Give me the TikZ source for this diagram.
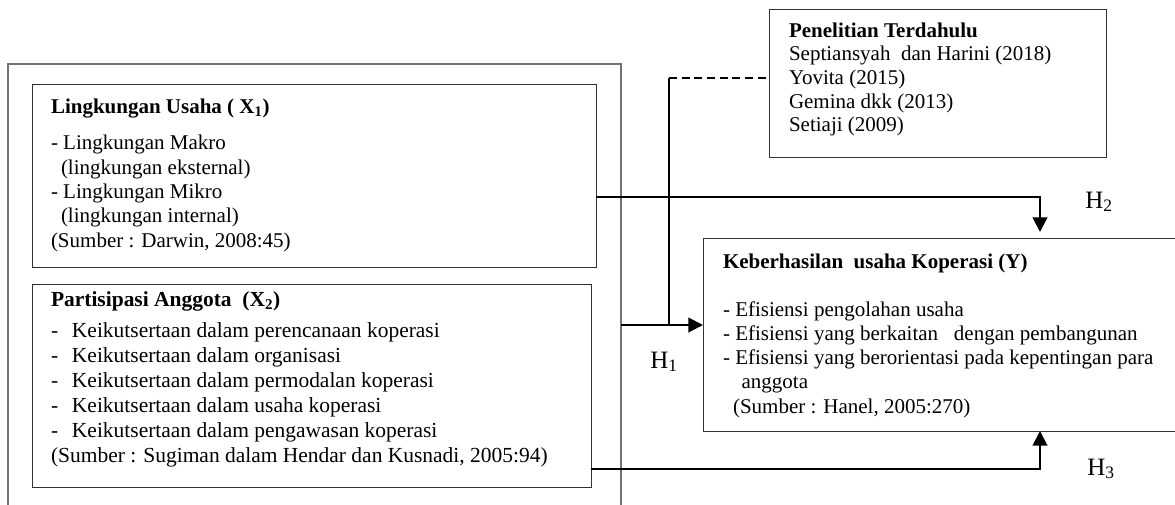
\documentclass[tikz,border=0pt]{standalone}
\usepackage{fontspec}
\setmainfont{Liberation Serif}
\usetikzlibrary{arrows.meta,fit}
\newcommand\tstrut{\rule{0pt}{13pt}}
\begin{document}
\begin{tikzpicture}[x=0.75pt,y=-0.75pt,
  thinbox/.style={draw=black!80, line width=0.75pt, inner sep=0pt, outer sep=0pt},
  outerline/.style={draw=black!55, line width=0.9pt},
  conn/.style={line width=1.5pt, black},
  tip/.style={-{Triangle[length=11pt,width=11pt]}},
  txt/.style={anchor=north west, inner sep=0pt, outer sep=0pt, align=left, yshift=13pt},
  body/.style={font=\fontsize{15.75pt}{18.2pt}\selectfont},
  hlab/.style={anchor=base west, inner sep=0pt, font=\fontsize{18.75pt}{22pt}\selectfont}]
\useasboundingbox (0,0) rectangle (1175,504);
\fill[white] (0,0) rectangle (1175,504);

% outer frame (open at the bottom)
\node[fit={(8,64) (621,530)}, inner sep=0pt, outer sep=0pt] (outer) {};
\draw[outerline] (outer.south west) |- (outer.north east) -- (outer.south east);

% boxes
\node[thinbox, fit={(32,84) (596,267)}] (b1) {};
\node[thinbox, fit={(32,284) (591,487)}] (b2) {};
\node[thinbox, fit={(769,9) (1106,157)}] (pen) {};
\node[thinbox, fit={(703,238) (1190,431)}] (Y) {};

% texts
\node[txt, body] (t1) at (51,113) {\tstrut\textbf{Lingkungan Usaha ( X\textsubscript{1})}\\[9.5pt]
- Lingkungan Makro\\
\hspace*{7.5pt}(lingkungan eksternal)\\
- Lingkungan Mikro\\
\hspace*{7.5pt}(lingkungan internal)\\
(Sumber : Darwin, 2008:45)};

\node[txt, font=\fontsize{16.1pt}{18.7pt}\selectfont] (t2) at (51,306) {\tstrut\textbf{Partisipasi Anggota\ \ (X\textsubscript{2})}\\[5pt]
\makebox[15.75pt][l]{-}Keikutsertaan dalam perencanaan koperasi\\
\makebox[15.75pt][l]{-}Keikutsertaan dalam organisasi\\
\makebox[15.75pt][l]{-}Keikutsertaan dalam permodalan koperasi\\
\makebox[15.75pt][l]{-}Keikutsertaan dalam usaha koperasi\\
\makebox[15.75pt][l]{-}Keikutsertaan dalam pengawasan koperasi\\
(Sumber : Sugiman dalam Hendar dan Kusnadi, 2005:94)};

\node[txt, font=\fontsize{15.75pt}{17.8pt}\selectfont] (tp) at (789,37) {\tstrut\textbf{Penelitian Terdahulu}\\
Septiansyah\ \ dan Harini (2018)\\
Yovita (2015)\\
Gemina dkk (2013)\\
Setiaji (2009)};

\node[txt, body] (ty) at (723,268) {\tstrut\textbf{Keberhasilan\ \ usaha Koperasi (Y)}\\[17.8pt]
- Efisiensi pengolahan usaha\\
- Efisiensi yang berkaitan\ \ \ dengan pembangunan\\
- Efisiensi yang berorientasi pada kepentingan para\\
\hspace*{14pt}anggota\\
\hspace*{7.5pt}(Sumber : Hanel, 2005:270)};

% connectors
\coordinate (j1) at (669,325);
\coordinate (j2) at (669,78);
\draw[conn,tip] (outer.east |- j1) -- (Y.west |- j1);
\draw[conn] (j1) -- (j2);
\draw[conn, dash pattern=on 6pt off 3.5pt] (j2) -- (pen.west |- j2);

\coordinate (k2) at (1040,197);
\draw[conn,tip,shorten >=4.5pt] (b1.east |- k2) -- (k2) -- (k2 |- Y.north);

\coordinate (k3) at (1040,469);
\draw[conn,tip] (b2.east |- k3) -- (k3) -- (k3 |- Y.south);

% hypothesis labels
\node[hlab] (h1) at (650,368) {H\textsubscript{1}};
\node[hlab] (h2) at (1085,208) {H\textsubscript{2}};
\node[hlab] (h3) at (1087,475) {H\textsubscript{3}};
\end{tikzpicture}
\end{document}
